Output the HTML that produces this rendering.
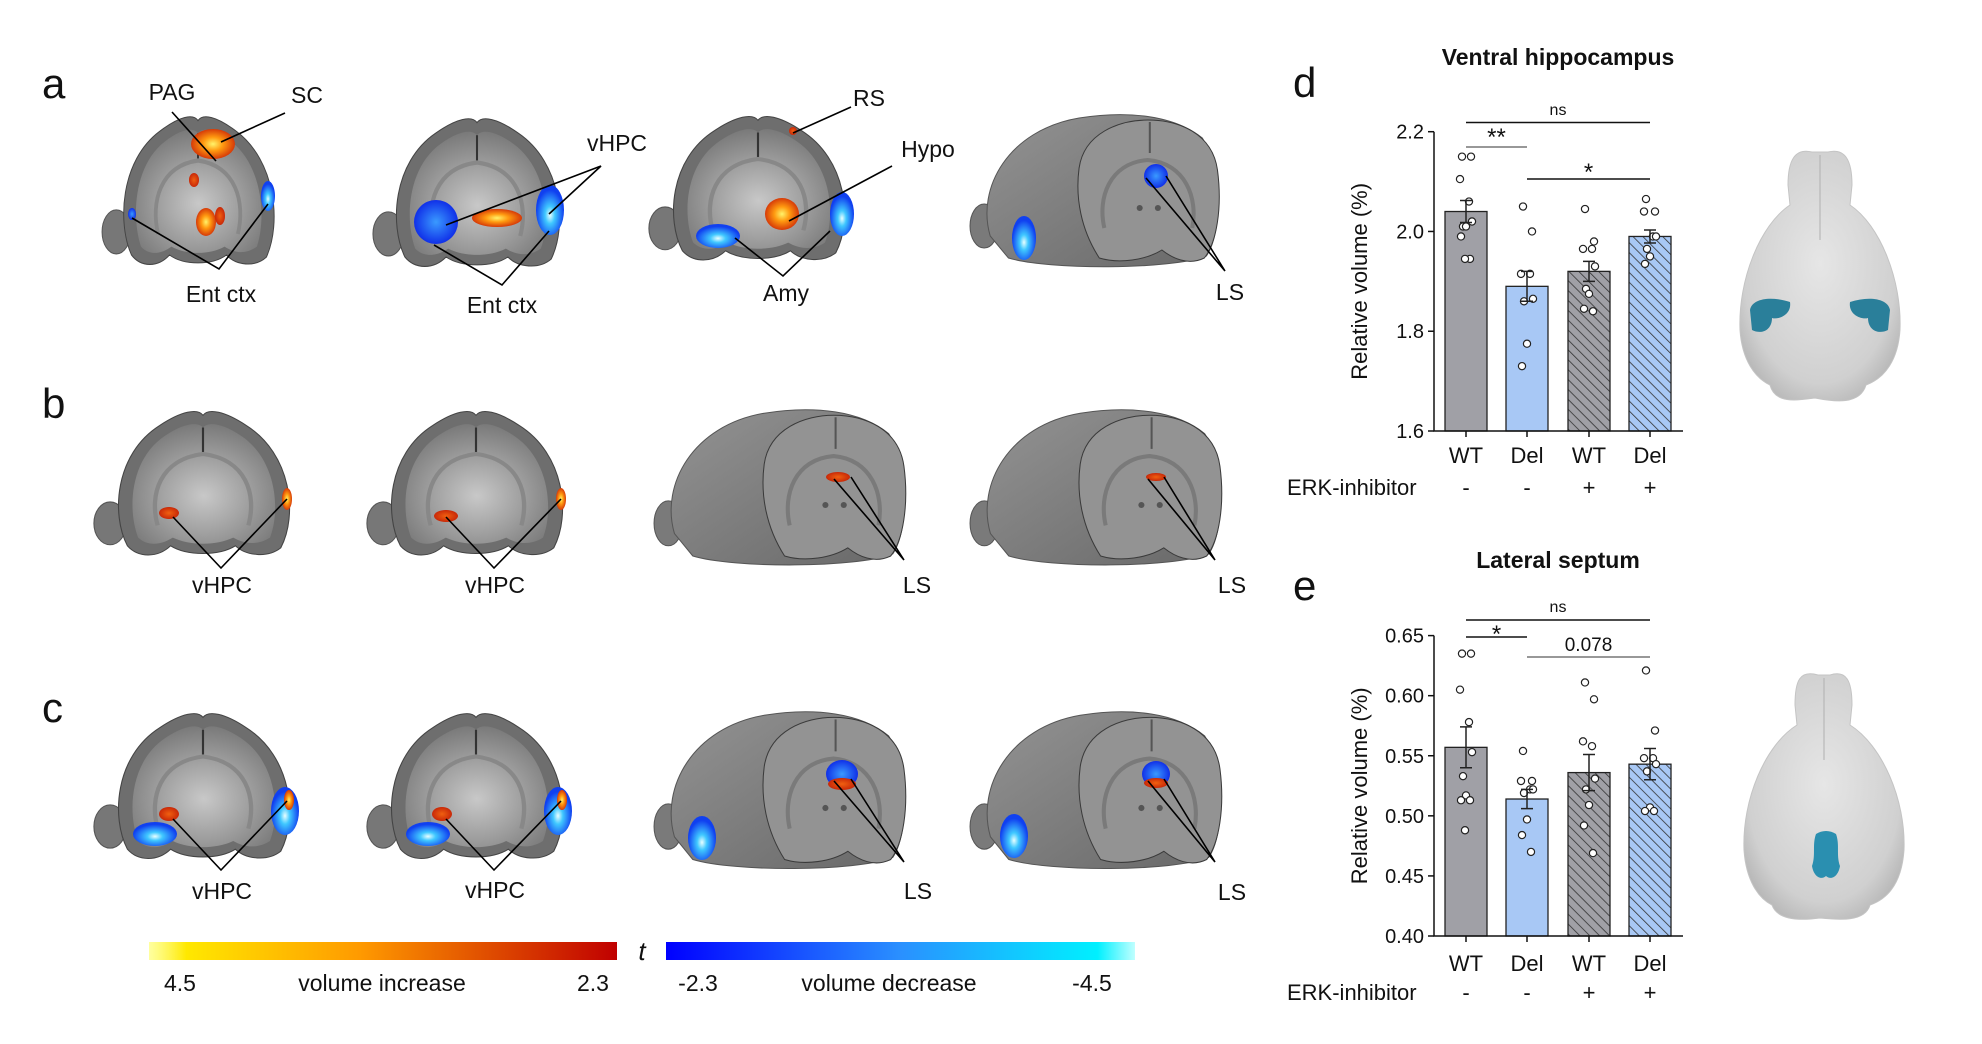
<!DOCTYPE html>
<html><head><meta charset="utf-8">
<style>
html,body{margin:0;padding:0;background:#fff;}
body{width:1982px;height:1039px;overflow:hidden;font-family:"Liberation Sans",sans-serif;}
svg text{font-family:"Liberation Sans Narrow","Liberation Sans",sans-serif;fill:#111;}
</style></head>
<body>
<svg id="fig" width="1982" height="1039" viewBox="0 0 1982 1039" xmlns="http://www.w3.org/2000/svg">
<defs>
  <radialGradient id="faceGrad" cx="50%" cy="60%" r="60%">
    <stop offset="0%" stop-color="#c8c8c8"/><stop offset="60%" stop-color="#9a9a9a"/><stop offset="100%" stop-color="#7a7a7a"/>
  </radialGradient>
  <linearGradient id="backGrad" x1="0" y1="0" x2="1" y2="1">
    <stop offset="0%" stop-color="#939393"/><stop offset="100%" stop-color="#686868"/>
  </linearGradient>
  <radialGradient id="hot" cx="50%" cy="50%" r="50%">
    <stop offset="0%" stop-color="#fff36a"/><stop offset="45%" stop-color="#ff9a10"/><stop offset="100%" stop-color="#d63a08"/>
  </radialGradient>
  <radialGradient id="red" cx="50%" cy="50%" r="50%">
    <stop offset="0%" stop-color="#f06010"/><stop offset="100%" stop-color="#c82808"/>
  </radialGradient>
  <radialGradient id="cold" cx="50%" cy="60%" r="50%">
    <stop offset="0%" stop-color="#e8ffff"/><stop offset="35%" stop-color="#40c8ff"/><stop offset="100%" stop-color="#1040f0"/>
  </radialGradient>
  <radialGradient id="blue" cx="50%" cy="50%" r="50%">
    <stop offset="0%" stop-color="#3a9aff"/><stop offset="100%" stop-color="#1030e8"/>
  </radialGradient>
  <linearGradient id="cbHot" x1="0" x2="1"><stop offset="0%" stop-color="#ffff60" stop-opacity="0.6"/><stop offset="8%" stop-color="#ffe800"/><stop offset="45%" stop-color="#ff9a00"/><stop offset="100%" stop-color="#c00000"/></linearGradient>
  <linearGradient id="cbCold" x1="0" x2="1"><stop offset="0%" stop-color="#0000ff"/><stop offset="50%" stop-color="#2a90ff"/><stop offset="92%" stop-color="#00f0ff"/><stop offset="100%" stop-color="#c0ffff"/></linearGradient>
  <radialGradient id="brainGrad" cx="50%" cy="45%" r="60%">
    <stop offset="0%" stop-color="#e6e6e6"/><stop offset="80%" stop-color="#d0d0d0"/><stop offset="100%" stop-color="#b8b8b8"/>
  </radialGradient>
  <pattern id="hatchG" patternUnits="userSpaceOnUse" width="7" height="7" patternTransform="rotate(-45)">
    <rect width="7" height="7" fill="#a0a0a6"/><line x1="0" y1="0" x2="0" y2="7" stroke="#333" stroke-width="1.6"/>
  </pattern>
  <pattern id="hatchB" patternUnits="userSpaceOnUse" width="7" height="7" patternTransform="rotate(-45)">
    <rect width="7" height="7" fill="#a8c8f5"/><line x1="0" y1="0" x2="0" y2="7" stroke="#333" stroke-width="1.6"/>
  </pattern>
  <g id="coronal">
    <ellipse cx="14" cy="118" rx="15" ry="21" fill="#777" stroke="#555"/>
    <path d="M30,140 C15,110 18,50 60,22 C80,8 95,5 100,12 C105,5 120,8 140,22 C182,50 188,110 172,142 C160,152 140,150 130,140 C115,150 85,150 70,140 C58,152 40,152 30,140 Z" fill="#6e6e6e" stroke="#444"/>
    <path d="M40,132 C30,105 32,55 65,32 C82,20 95,18 100,24 C105,18 118,20 135,32 C168,55 172,105 162,132 C150,140 138,138 128,132 C112,140 88,140 72,132 C60,140 48,140 40,132 Z" fill="url(#faceGrad)"/>
    <path d="M58,120 C50,90 60,55 100,50 C140,55 150,90 142,120" fill="none" stroke="#888" stroke-width="4"/>
    <line x1="100" y1="24" x2="100" y2="48" stroke="#333" stroke-width="2"/>
  </g>
  <g id="threeD">
    <ellipse cx="16" cy="118" rx="14" ry="22" fill="#7a7a7a" stroke="#555"/>
    <path d="M22,128 C8,80 40,22 110,10 C160,2 205,8 232,30 C252,60 252,125 236,148 C200,162 80,162 40,150 Z" fill="url(#backGrad)" stroke="#555"/>
    <path d="M110,60 C115,25 150,12 178,12 C208,12 242,25 247,62 C252,100 246,135 234,150 C218,158 202,150 192,142 C176,152 150,156 130,150 C112,122 106,90 110,60 Z" fill="#939393" stroke="#3a3a3a"/>
    <path d="M135,120 C128,90 140,55 178,52 C215,55 228,90 222,120" fill="none" stroke="#7a7a7a" stroke-width="4"/>
    <circle cx="170" cy="100" r="3" fill="#555"/><circle cx="188" cy="100" r="3" fill="#555"/>
    <line x1="180" y1="14" x2="180" y2="45" stroke="#555" stroke-width="2"/>
  </g>
</defs>

<text x="42" y="98" font-size="42" style="font-family:'Liberation Sans',sans-serif">a</text>
<text x="42" y="418" font-size="42" style="font-family:'Liberation Sans',sans-serif">b</text>
<text x="42" y="722" font-size="42" style="font-family:'Liberation Sans',sans-serif">c</text>
<text x="1293" y="97" font-size="42" style="font-family:'Liberation Sans',sans-serif">d</text>
<text x="1293" y="600" font-size="42" style="font-family:'Liberation Sans',sans-serif">e</text>

<g><use href="#coronal" transform="translate(103,108) scale(0.95,1.05)"/></g>
<g><use href="#coronal" transform="translate(374,110) scale(1.03,1.05)"/></g>
<g><use href="#coronal" transform="translate(650,108) scale(1.08,1.02)"/></g>
<g><use href="#threeD" transform="translate(968,108) scale(1.01,1.0)"/></g>
<g><use href="#coronal" transform="translate(95,403) scale(1.08,1.02)"/></g>
<g><use href="#coronal" transform="translate(368,403) scale(1.08,1.02)"/></g>
<g><use href="#threeD" transform="translate(652,403) scale(1.02,1.02)"/></g>
<g><use href="#threeD" transform="translate(968,403) scale(1.02,1.02)"/></g>
<g><use href="#coronal" transform="translate(95,705) scale(1.08,1.03)"/></g>
<g><use href="#coronal" transform="translate(368,705) scale(1.08,1.03)"/></g>
<g><use href="#threeD" transform="translate(652,705) scale(1.02,1.03)"/></g>
<g><use href="#threeD" transform="translate(968,705) scale(1.02,1.03)"/></g>

<g>
  <ellipse cx="213" cy="144" rx="22" ry="15" fill="url(#hot)"/>
  <ellipse cx="194" cy="180" rx="5" ry="7" fill="url(#red)"/>
  <ellipse cx="206" cy="222" rx="10" ry="14" fill="url(#hot)"/>
  <ellipse cx="220" cy="216" rx="5" ry="9" fill="url(#red)"/>
  <ellipse cx="268" cy="196" rx="7" ry="15" fill="url(#cold)"/>
  <ellipse cx="132" cy="214" rx="4" ry="6" fill="url(#blue)"/>
  <ellipse cx="436" cy="222" rx="22" ry="22" fill="url(#blue)"/>
  <ellipse cx="550" cy="210" rx="14" ry="25" fill="url(#cold)"/>
  <ellipse cx="497" cy="218" rx="25" ry="9" fill="url(#hot)"/>
  <ellipse cx="718" cy="236" rx="22" ry="12" fill="url(#cold)"/>
  <ellipse cx="842" cy="214" rx="12" ry="22" fill="url(#cold)"/>
  <ellipse cx="782" cy="214" rx="17" ry="16" fill="url(#hot)"/>
  <ellipse cx="793" cy="131" rx="4" ry="4" fill="url(#red)"/>
  <ellipse cx="1156" cy="176" rx="12" ry="12" fill="url(#blue)"/>
  <ellipse cx="1024" cy="238" rx="12" ry="22" fill="url(#cold)"/>
  <ellipse cx="169" cy="513" rx="10" ry="6" fill="url(#red)"/>
  <ellipse cx="287" cy="499" rx="5" ry="11" fill="url(#hot)"/>
  <ellipse cx="446" cy="516" rx="12" ry="6" fill="url(#red)"/>
  <ellipse cx="561" cy="499" rx="5" ry="11" fill="url(#hot)"/>
  <ellipse cx="838" cy="477" rx="12" ry="5" fill="url(#red)"/>
  <ellipse cx="1156" cy="477" rx="10" ry="4" fill="url(#red)"/>
  <ellipse cx="155" cy="834" rx="22" ry="12" fill="url(#cold)"/>
  <ellipse cx="285" cy="811" rx="14" ry="24" fill="url(#cold)"/>
  <ellipse cx="169" cy="814" rx="10" ry="7" fill="url(#red)"/>
  <ellipse cx="289" cy="800" rx="5" ry="10" fill="url(#hot)"/>
  <ellipse cx="428" cy="834" rx="22" ry="12" fill="url(#cold)"/>
  <ellipse cx="558" cy="811" rx="14" ry="24" fill="url(#cold)"/>
  <ellipse cx="442" cy="814" rx="10" ry="7" fill="url(#red)"/>
  <ellipse cx="562" cy="800" rx="5" ry="10" fill="url(#hot)"/>
  <ellipse cx="842" cy="774" rx="16" ry="14" fill="url(#blue)"/>
  <ellipse cx="842" cy="784" rx="14" ry="6" fill="url(#red)"/>
  <ellipse cx="702" cy="838" rx="14" ry="22" fill="url(#cold)"/>
  <ellipse cx="1156" cy="774" rx="14" ry="13" fill="url(#blue)"/>
  <ellipse cx="1156" cy="783" rx="12" ry="5" fill="url(#red)"/>
  <ellipse cx="1014" cy="836" rx="14" ry="22" fill="url(#cold)"/>
</g>

<g stroke="#000" stroke-width="1.6" fill="none">
  <polyline points="172,112 216,161"/><polyline points="285,113 221,142"/>
  <polyline points="132,218 219,269 268,204"/>
  <polyline points="446,225 601,166 549,214"/><polyline points="434,245 502,285 549,231"/>
  <polyline points="851,107 793,133"/><polyline points="892,166 789,221"/>
  <polyline points="735,238 783,276 830,231"/>
  <polyline points="1146,178 1225,271 1166,176"/>
  <polyline points="173,517 221,568 287,499"/><polyline points="446,517 494,568 561,499"/>
  <polyline points="834,479 904,560 851,477"/><polyline points="1148,479 1215,560 1164,477"/>
  <polyline points="173,819 221,870 287,801"/><polyline points="446,819 494,870 561,801"/>
  <polyline points="834,781 904,862 851,779"/><polyline points="1148,781 1215,862 1164,779"/>
</g>

<g font-size="23">
  <text x="172" y="100" text-anchor="middle">PAG</text>
  <text x="307" y="103" text-anchor="middle">SC</text>
  <text x="221" y="302" text-anchor="middle">Ent ctx</text>
  <text x="617" y="151" text-anchor="middle">vHPC</text>
  <text x="502" y="313" text-anchor="middle">Ent ctx</text>
  <text x="869" y="106" text-anchor="middle">RS</text>
  <text x="928" y="157" text-anchor="middle">Hypo</text>
  <text x="786" y="301" text-anchor="middle">Amy</text>
  <text x="1230" y="300" text-anchor="middle">LS</text>
  <text x="222" y="593" text-anchor="middle">vHPC</text>
  <text x="495" y="593" text-anchor="middle">vHPC</text>
  <text x="917" y="593" text-anchor="middle">LS</text>
  <text x="1232" y="593" text-anchor="middle">LS</text>
  <text x="222" y="899" text-anchor="middle">vHPC</text>
  <text x="495" y="898" text-anchor="middle">vHPC</text>
  <text x="918" y="899" text-anchor="middle">LS</text>
  <text x="1232" y="900" text-anchor="middle">LS</text>
</g>

<g>
  <rect x="149" y="942" width="468" height="18" fill="url(#cbHot)"/>
  <rect x="666" y="942" width="469" height="18" fill="url(#cbCold)"/>
  <text x="642" y="960" font-size="26" font-style="italic" text-anchor="middle">t</text>
  <text x="180" y="991" font-size="23" text-anchor="middle">4.5</text>
  <text x="382" y="991" font-size="23" text-anchor="middle">volume increase</text>
  <text x="593" y="991" font-size="23" text-anchor="middle">2.3</text>
  <text x="698" y="991" font-size="23" text-anchor="middle">-2.3</text>
  <text x="889" y="991" font-size="23" text-anchor="middle">volume decrease</text>
  <text x="1092" y="991" font-size="23" text-anchor="middle">-4.5</text>
</g>

<g>
  <path d="M1812,152 C1795,148 1788,160 1788,185 L1790,205 C1760,225 1738,280 1740,330 C1742,360 1755,378 1770,385 C1775,405 1800,400 1815,398 C1835,402 1860,405 1866,385 C1885,378 1898,360 1900,330 C1902,280 1880,225 1850,205 L1852,185 C1852,160 1845,148 1828,152 Z" fill="url(#brainGrad)" stroke="#c4c4c4"/>
  <line x1="1820" y1="155" x2="1820" y2="240" stroke="#b0b0b0"/>
  <path d="M1750,310 C1752,298 1772,296 1790,302 C1792,315 1778,320 1772,318 C1772,330 1762,335 1752,330 Z" fill="#2a7f9a"/>
  <path d="M1890,310 C1888,298 1868,296 1850,302 C1848,315 1862,320 1868,318 C1868,330 1878,335 1888,330 Z" fill="#2a7f9a"/>
</g>
<g>
  <path d="M1818,675 C1800,670 1795,680 1795,705 L1797,725 C1765,745 1742,800 1744,850 C1746,880 1758,898 1772,905 C1778,922 1805,920 1820,918 C1840,920 1865,922 1870,905 C1890,898 1902,880 1904,850 C1906,800 1882,745 1850,725 L1852,705 C1852,680 1846,670 1830,675 Z" fill="url(#brainGrad)" stroke="#c4c4c4"/>
  <line x1="1824" y1="678" x2="1824" y2="760" stroke="#b0b0b0"/>
  <path d="M1816,834 C1822,830 1830,830 1836,834 C1840,845 1836,855 1840,866 C1838,878 1830,880 1826,876 C1822,880 1814,878 1812,866 C1816,855 1812,845 1816,834 Z" fill="#2a8fb0"/>
</g>

<g id="charts"></g>
</svg>

<script>
// ---- chart data ----
var categories = ["WT", "Del", "WT", "Del"];
var erkLabels = ["-", "-", "+", "+"];
var vhpcMeans = [2.04, 1.89, 1.92, 1.99];
var vhpcSem = [0.022, 0.030, 0.020, 0.013];
var vhpcWT = [2.15, 2.15, 2.105, 2.06, 2.02, 2.01, 2.01, 1.99, 1.945, 1.945];
var vhpcDel = [2.05, 2.0, 1.915, 1.915, 1.865, 1.86, 1.775, 1.73];
var vhpcWTi = [2.045, 1.98, 1.965, 1.965, 1.93, 1.885, 1.875, 1.845, 1.84];
var vhpcDeli = [2.065, 2.04, 2.04, 1.99, 1.99, 1.965, 1.95, 1.935];
var vhpcTicks = ["1.6", "1.8", "2.0", "2.2"];
var lsMeans = [0.557, 0.514, 0.536, 0.543];
var lsSem = [0.017, 0.008, 0.015, 0.013];
var lsWT = [0.635, 0.635, 0.605, 0.578, 0.553, 0.533, 0.517, 0.513, 0.513, 0.488];
var lsDel = [0.554, 0.529, 0.529, 0.522, 0.522, 0.519, 0.497, 0.484, 0.470];
var lsWTi = [0.611, 0.597, 0.562, 0.558, 0.531, 0.522, 0.509, 0.492, 0.469];
var lsDeli = [0.621, 0.571, 0.548, 0.548, 0.543, 0.537, 0.507, 0.504, 0.504];
var lsTicks = ["0.40", "0.45", "0.50", "0.55", "0.60", "0.65"];

var NS = "http://www.w3.org/2000/svg";
var root = document.getElementById("charts");
function mk(tag, attrs, parent) {
  var e = document.createElementNS(NS, tag);
  for (var k in attrs) e.setAttribute(k, attrs[k]);
  (parent || root).appendChild(e);
  return e;
}
var fills = ["#a0a0a6", "#a8c8f5", "url(#hatchG)", "url(#hatchB)"];
var jitter = [-4, 5, -6, 3, 6, -3, 0, -5, 4, -1];

function drawChart(cfg) {
  var g = mk("g", {});
  
  
  var x0 = 1434, x1 = 1683;
  var centers = [1466, 1527, 1589, 1650];
  var bw = 42;
  function y(v) { return cfg.yBot - (v - cfg.min) / (cfg.max - cfg.min) * (cfg.yBot - cfg.yTop); }
  var t = mk("text", {x: 1558, y: cfg.titleY, "font-size": 23, "font-weight": "bold", "text-anchor": "middle"}, g);
  t.textContent = cfg.title;
  
  
  for (var i = 0; i < 4; i++) {
    var r = mk("rect", {x: centers[i] - bw / 2, y: y(cfg.means[i]), width: bw, height: cfg.yBot - y(cfg.means[i]), fill: fills[i], stroke: "#222", "stroke-width": 1.3}, g);
    
    
  }
  var groups = cfg.points;
  for (var gi = 0; gi < 4; gi++) {
    for (var j = 0; j < groups[gi].length; j++) {
      var c = mk("circle", {cx: centers[gi] + jitter[j % jitter.length], cy: y(groups[gi][j]), r: 3.6, fill: "#fff", stroke: "#222", "stroke-width": 1.2}, g);
      
      
    }
  }
  for (var k = 0; k < 4; k++) {
    var yt = y(cfg.means[k] + cfg.sem[k]), yb = y(cfg.means[k] - cfg.sem[k]);
    var eb = mk("path", {d: "M" + centers[k] + "," + yt + "V" + yb + "M" + (centers[k] - 6) + "," + yt + "h12M" + (centers[k] - 6) + "," + yb + "h12", stroke: "#222", "stroke-width": 1.5, fill: "none"}, g);
    
    
  }
  var ax = mk("path", {d: "M" + x0 + "," + cfg.yTop + "V" + cfg.yBot + "H" + x1, stroke: "#111", "stroke-width": 1.5, fill: "none"}, g);
  
  
  for (var ti = 0; ti < cfg.ticks.length; ti++) {
    var v = parseFloat(cfg.ticks[ti]);
    mk("line", {x1: x0 - 6, x2: x0, y1: y(v), y2: y(v), stroke: "#111", "stroke-width": 1.5}, g);
    var tl = mk("text", {x: x0 - 10, y: y(v) + 7, "font-size": 20, "text-anchor": "end"}, g);
    tl.textContent = cfg.ticks[ti];
    
    
  }
  for (var xi = 0; xi < 4; xi++) {
    mk("line", {x1: centers[xi], x2: centers[xi], y1: cfg.yBot, y2: cfg.yBot + 6, stroke: "#111", "stroke-width": 1.5}, g);
    var xl = mk("text", {x: centers[xi], y: cfg.xLabY, "font-size": 22, "text-anchor": "middle"}, g);
    xl.textContent = categories[xi];
    
    
    var el = mk("text", {x: centers[xi], y: cfg.erkY, "font-size": 22, "text-anchor": "middle"}, g);
    el.textContent = erkLabels[xi];
    
    
  }
  var erk = mk("text", {x: 1287, y: cfg.erkY, "font-size": 22}, g);
  erk.textContent = "ERK-inhibitor";
  
  
  var yt2 = mk("text", {x: 0, y: 0, "font-size": 22, "text-anchor": "middle", transform: "translate(1367," + ((cfg.yTop + cfg.yBot) / 2) + ") rotate(-90)", style: "font-family:'Liberation Sans',sans-serif"}, g);
  yt2.textContent = "Relative volume (%)";
  
  
  cfg.sig.forEach(function (s) {
    var ln = mk("line", {x1: centers[s.a], x2: centers[s.b], y1: s.y, y2: s.y, stroke: s.gray ? "#777" : "#111", "stroke-width": 1.5}, g);
    
    
    var st = mk("text", {x: (centers[s.a] + centers[s.b]) / 2, y: s.ty, "font-size": s.fs || 18, "text-anchor": "middle"}, g);
    st.textContent = s.label;
    
    
  });
}

drawChart({name: "chart-ventral-hippocampus", title: "Ventral hippocampus", titleY: 65, min: 1.6, max: 2.2, yTop: 131.7, yBot: 431,
  means: vhpcMeans, sem: vhpcSem, points: [vhpcWT, vhpcDel, vhpcWTi, vhpcDeli], ticks: vhpcTicks, xLabY: 463, erkY: 495,
  sig: [{a: 0, b: 3, y: 122.5, ty: 115, label: "ns", fs: 16}, {a: 0, b: 1, y: 147, ty: 145, label: "**", fs: 24, gray: true}, {a: 1, b: 3, y: 179, ty: 180, label: "*", fs: 24}]});
drawChart({name: "chart-lateral-septum", title: "Lateral septum", titleY: 568, min: 0.40, max: 0.65, yTop: 635.6, yBot: 936,
  means: lsMeans, sem: lsSem, points: [lsWT, lsDel, lsWTi, lsDeli], ticks: lsTicks, xLabY: 971, erkY: 1000,
  sig: [{a: 0, b: 3, y: 620, ty: 612, label: "ns", fs: 16}, {a: 0, b: 1, y: 637, ty: 642, label: "*", fs: 24}, {a: 1, b: 3, y: 657, ty: 651, label: "0.078", fs: 19, gray: true}]});
</script>
</body></html>
